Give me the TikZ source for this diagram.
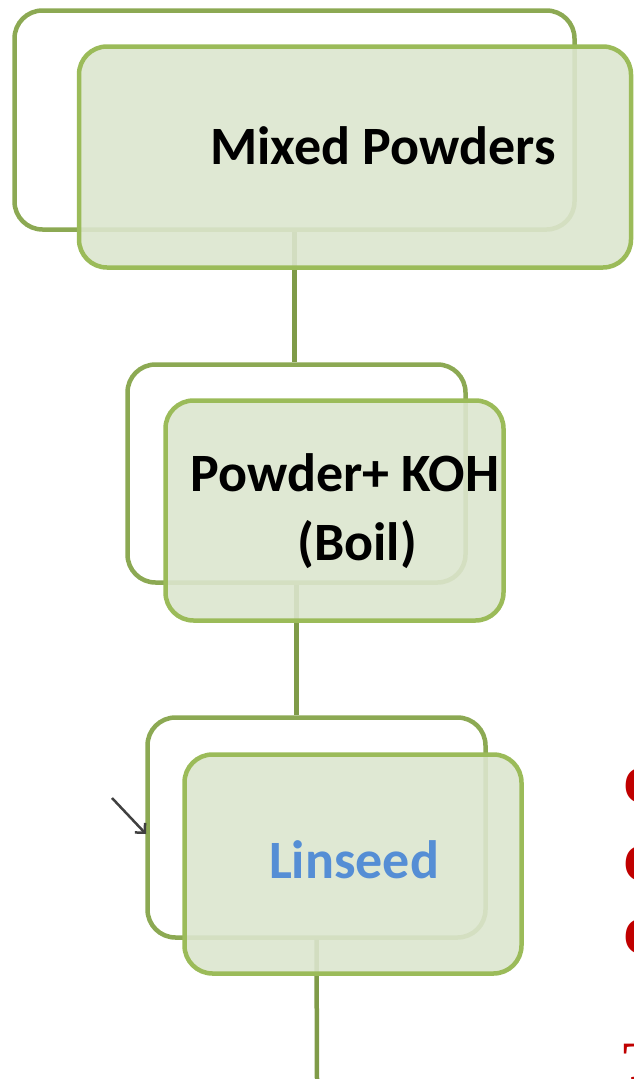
\documentclass[tikz,border=0pt]{standalone}
\usepackage{fontspec}
\setmainfont{Carlito}
\newfontfamily\cutserif{Liberation Serif}
\usetikzlibrary{arrows.meta}
\definecolor{backline}{HTML}{8CA953}
\definecolor{frontline}{HTML}{9BBB59}
\definecolor{frontfill}{HTML}{DCE5CE}
\definecolor{linkline}{HTML}{7F9B48}
\definecolor{seedblue}{HTML}{558ED5}
\definecolor{cutred}{HTML}{C00000}
\begin{document}
\begin{tikzpicture}[x=1pt,y=-1pt,line width=4.5pt,
    font=\bfseries\fontsize{54}{60}\selectfont,
    backbox/.style={draw=backline,rounded corners=28pt,inner sep=0pt},
    frontbox/.style={draw=frontline,fill=frontfill,fill opacity=.9,rounded corners=28pt,inner sep=0pt},
    link/.style={draw=linkline},
    steplabel/.style={inner sep=0pt,text=black},
    cutletter/.style={inner sep=0pt,anchor=base west,text=cutred,font=\cutserif\bfseries\fontsize{54}{60}\selectfont}]
    \useasboundingbox (0,0) rectangle (634,1079);
    \clip (0,0) rectangle (634,1079);
    %===========================================
    \node[backbox,minimum width=560pt,minimum height=219pt] (back1) at (294.5,120) {};
    \node[backbox,minimum width=338pt,minimum height=218pt] (back2) at (296.5,473.5) {};
    \node[backbox,minimum width=338pt,minimum height=220pt] (back3) at (316.5,827.5) {};
    \coordinate (bottom) at (317,1079);
    \draw[link] (back1.south) -- (back1.south |- back2.north);
    \draw[link] (back2.south) -- (back2.south |- back3.north);
    \draw[link] (back3.south) -- (bottom);
    %===========================================
    \node[frontbox,minimum width=552pt,minimum height=221pt] (front1) at (355,157) {};
    \node[frontbox,minimum width=338pt,minimum height=220pt] (front2) at (334.5,510.5) {};
    \node[frontbox,minimum width=337pt,minimum height=219pt] (front3) at (353,864) {};
    \node[steplabel] (mixed) at (383,146) {Mixed Powders};
    \node[steplabel] (koh) at (345,473) {Powder+ KOH};
    \node[steplabel] (boil) at (357,545) {(Boil)};
    \node[steplabel,text=seedblue] (linseed) at (354,860) {Linseed};
    %===========================================
    \coordinate (marktail) at (112,798);
    \coordinate (markhead) at (146,834);
    \draw[black!75,line width=2.5pt,-{Straight Barb[length=7pt]}] (marktail) -- (markhead);
    \foreach \n/\y in {a/803,b/881,c/954}
        \node[cutletter] (cut\n) at (621,\y) {C};
    \node[cutletter] (cutd) at (621,1079) {T};
\end{tikzpicture}
\end{document}
